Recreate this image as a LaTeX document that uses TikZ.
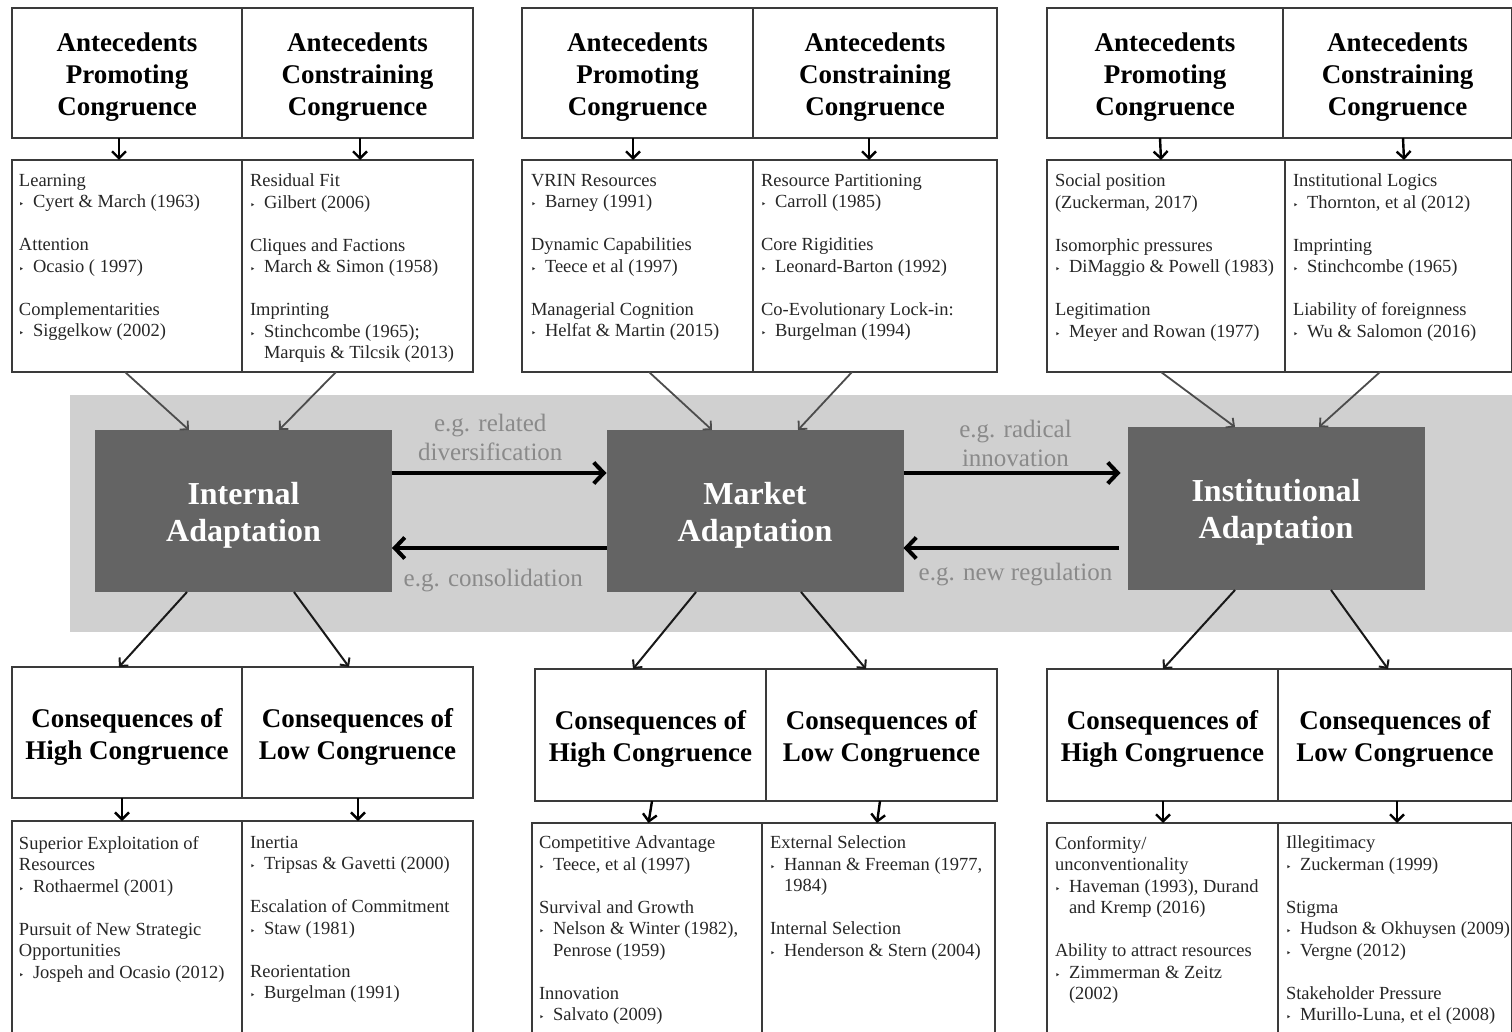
\documentclass[tikz,border=0pt]{standalone}
\usepackage{fontspec}
\setmainfont{Liberation Serif}
\newfontfamily\symfont{DejaVu Sans}
\usetikzlibrary{positioning,arrows.meta,calc}

\definecolor{bandgray}{HTML}{D0D0D0}
\definecolor{boxgray}{HTML}{646464}
\definecolor{taggray}{HTML}{8A8A8A}
\definecolor{rulegray}{HTML}{3A3A3A}

\newcommand\hfnt{\fontsize{27}{32}\selectfont\bfseries}
\newcommand\lfnt{\fontsize{18.5}{21.5}\selectfont}
\newcommand\tfnt{\fontsize{25}{29}\selectfont}
\newcommand\afnt{\fontsize{32}{37}\selectfont\bfseries}
\newcommand\bul{\makebox[14pt][l]{\symfont\fontsize{9}{9}\selectfont ‣}}
\newcommand\ind{\hspace*{14pt}}
\newcommand\gap{\\[21.5pt]}
% centred lines, set a little below the middle of their box
\newcommand\stack[1]{\raisebox{-4.5pt}[\height][\depth]{\begin{tabular}{@{}c@{}}#1\end{tabular}}}

\begin{document}
\begin{tikzpicture}[x=1pt,y=-1pt,outer sep=0pt,
    hd/.style={draw=rulegray,line width=1.5pt,anchor=north west,font=\hfnt,inner sep=0pt,minimum height=#1},
    bx/.style={draw=rulegray,line width=1.5pt,anchor=north west,inner sep=0pt,minimum height=#1},
    lst/.style={anchor=north west,align=left,font=\lfnt,inner sep=0pt,text=black!85},
    adapt/.style={fill=boxgray,text=white,font=\afnt,minimum width=297pt,minimum height=162pt},
    tag/.style={text=taggray,font=\tfnt,align=center,inner sep=0pt},
    flow/.style={black,line width=4pt,-{Straight Barb[length=10pt,width=21pt]}},
    feed/.style={black!70,line width=1.8pt,-{Straight Barb[length=6pt,width=12pt]}},
    down/.style={black!90,line width=2pt,-{Straight Barb[length=6pt,width=12pt]}},
    drop/.style={black,line width=2.4pt,-{Straight Barb[length=7pt,width=14pt]}}]
  \useasboundingbox (0,0) rectangle (1512,1032);
  \fill[bandgray] (70,395) rectangle (1512,632);

  % antecedents
  \node[hd=130pt,minimum width=230pt] (hp1) at (12,8) {\stack{Antecedents\\Promoting\\Congruence}};
  \node[hd=130pt,minimum width=231pt,right=0pt of hp1] (hc1) {\stack{Antecedents\\Constraining\\Congruence}};
  \node[hd=130pt,minimum width=231pt] (hp2) at (522,8) {\stack{Antecedents\\Promoting\\Congruence}};
  \node[hd=130pt,minimum width=244pt,right=0pt of hp2] (hc2) {\stack{Antecedents\\Constraining\\Congruence}};
  \node[hd=130pt,minimum width=236pt] (hp3) at (1047,8) {\stack{Antecedents\\Promoting\\Congruence}};
  \node[hd=130pt,minimum width=229pt,right=0pt of hp3] (hc3) {\stack{Antecedents\\Constraining\\Congruence}};

  \node[bx=212pt,minimum width=230pt] (lp1) at (12,160) {};
  \node[bx=212pt,minimum width=231pt,right=0pt of lp1] (lc1) {};
  \node[bx=212pt,minimum width=231pt] (lp2) at (522,160) {};
  \node[bx=212pt,minimum width=244pt,right=0pt of lp2] (lc2) {};
  \node[bx=212pt,minimum width=238pt] (lp3) at (1047,160) {};
  \node[bx=212pt,minimum width=227pt,right=0pt of lp3] (lc3) {};

  \node[lst] (tp1) at ([xshift=7pt,yshift=-14pt]lp1.north west) {Learning\\\bul Cyert \& March (1963)\gap Attention\\\bul Ocasio ( 1997)\gap Complementarities\\\bul Siggelkow (2002)};
  \node[lst] (tc1) at ([xshift=8pt,yshift=-14pt]lc1.north west) {Residual Fit\\\bul Gilbert (2006)\gap Cliques and Factions\\\bul March \& Simon (1958)\gap Imprinting\\\bul Stinchcombe (1965);\\\ind Marquis \& Tilcsik (2013)};
  \node[lst] (tp2) at ([xshift=9pt,yshift=-14pt]lp2.north west) {VRIN Resources\\\bul Barney (1991)\gap Dynamic Capabilities\\\bul Teece et al (1997)\gap Managerial Cognition\\\bul Helfat \& Martin (2015)};
  \node[lst] (tc2) at ([xshift=8pt,yshift=-14pt]lc2.north west) {Resource Partitioning\\\bul Carroll (1985)\gap Core Rigidities\\\bul Leonard-Barton (1992)\gap Co-Evolutionary Lock-in:\\\bul Burgelman (1994)};
  \node[lst] (tp3) at ([xshift=8pt,yshift=-14pt]lp3.north west) {Social position\\(Zuckerman, 2017)\gap Isomorphic pressures\\\bul DiMaggio \& Powell (1983)\gap Legitimation\\\bul Meyer and Rowan (1977)};
  \node[lst] (tc3) at ([xshift=8pt,yshift=-14pt]lc3.north west) {Institutional Logics\\\bul Thornton, et al (2012)\gap Imprinting\\\bul Stinchcombe (1965)\gap Liability of foreignness\\\bul Wu \& Salomon (2016)};

  \foreach \g/\a/\b in {1/-8/2.5,2/-4.5/-6,3/-5/5.5}{
    \draw[drop] ([xshift=\a pt]hp\g.south) -- ([xshift=\a pt]lp\g.north);
    \draw[drop] ([xshift=\b pt]hc\g.south) -- ([xshift=\b pt]lc\g.north);
  }

  % adaptation
  \node[adapt] (int) at (243.5,511) {\stack{Internal\\Adaptation}};
  \node[adapt] (mkt) at (755,511) {\stack{Market\\Adaptation}};
  \node[adapt,minimum height=163pt] (inst) at (1276,508.5) {\stack{Institutional\\Adaptation}};

  \draw[feed] ([xshift=-2pt]lp1.south) -- ([xshift=-54.5pt]int.north);
  \draw[feed] ([xshift=-21.5pt]lc1.south) -- ([xshift=35.5pt]int.north);
  \draw[feed] ([xshift=11.5pt]lp2.south) -- ([xshift=-43pt]mkt.north);
  \draw[feed] ([xshift=-23pt]lc2.south) -- ([xshift=43pt]mkt.north);
  \draw[feed] ([xshift=-5pt]lp3.south) -- ([xshift=-41pt]inst.north);
  \draw[feed] ([xshift=-18.5pt]lc3.south) -- ([xshift=43pt]inst.north);

  \draw[flow] ([yshift=38pt]int.east) -- node[tag,above=12pt,xshift=-9pt] {e.g. related\\diversification} ([yshift=38pt]mkt.west);
  \draw[flow] ([yshift=-37pt]mkt.west) -- node[tag,below=21pt,xshift=-6pt] {e.g. consolidation} ([yshift=-37pt]int.east);
  \draw[flow,shorten >=7pt] ([yshift=38pt]mkt.east) -- node[tag,above=6pt] {e.g. radical\\innovation} ([yshift=35.5pt]inst.west);
  \draw[flow,shorten <=9pt] ([yshift=-39.5pt]inst.west) -- node[tag,below=15pt] {e.g. new regulation} ([yshift=-37pt]mkt.east);

  % consequences
  \node[hd=131pt,minimum width=230pt] (hh1) at (12,667) {\stack{Consequences of\\High Congruence}};
  \node[hd=131pt,minimum width=231pt,right=0pt of hh1] (hl1) {\stack{Consequences of\\Low Congruence}};
  \node[hd=132pt,minimum width=231pt] (hh2) at (535,669) {\stack{Consequences of\\High Congruence}};
  \node[hd=132pt,minimum width=231pt,right=0pt of hh2] (hl2) {\stack{Consequences of\\Low Congruence}};
  \node[hd=132pt,minimum width=231pt] (hh3) at (1047,669) {\stack{Consequences of\\High Congruence}};
  \node[hd=132pt,minimum width=234pt,right=0pt of hh3] (hl3) {\stack{Consequences of\\Low Congruence}};

  \draw[down] ([xshift=-56.5pt]int.south) -- ([xshift=-8pt]hh1.north);
  \draw[down] ([xshift=50.5pt]int.south) -- ([xshift=-8.5pt]hl1.north);
  \draw[down] ([xshift=-59pt]mkt.south) -- ([xshift=-17.5pt]hh2.north);
  \draw[down] ([xshift=46pt]mkt.south) -- ([xshift=-15.5pt]hl2.north);
  \draw[down] ([xshift=-41pt]inst.south) -- ([xshift=0.5pt]hh3.north);
  \draw[down] ([xshift=55pt]inst.south) -- ([xshift=-7pt]hl3.north);

  \node[bx=230pt,minimum width=230pt] (bh1) at (12,821) {};
  \node[bx=230pt,minimum width=231pt,right=0pt of bh1] (bl1) {};
  \node[bx=230pt,minimum width=230pt] (bh2) at (532,823) {};
  \node[bx=230pt,minimum width=233pt,right=0pt of bh2] (bl2) {};
  \node[bx=230pt,minimum width=231pt] (bh3) at (1047,823) {};
  \node[bx=230pt,minimum width=234pt,right=0pt of bh3] (bl3) {};

  \foreach \g/\a/\b in {1/-5/0.5,2/1.5/-1.5,3/0.5/2}{
    \draw[drop] ([xshift=\a pt]hh\g.south) -- ([xshift=\a pt]bh\g.north);
    \draw[drop] ([xshift=\b pt]hl\g.south) -- ([xshift=\b pt]bl\g.north);
  }

  \node[lst] (th1) at ([xshift=7pt,yshift=-15pt]bh1.north west) {Superior Exploitation of\\Resources\\\bul Rothaermel (2001)\gap Pursuit of New Strategic\\Opportunities\\\bul Jospeh and Ocasio (2012)};
  \node[lst] (tl1) at ([xshift=8pt,yshift=-15pt]bl1.north west) {Inertia\\\bul Tripsas \& Gavetti (2000)\gap Escalation of Commitment\\\bul Staw (1981)\gap Reorientation\\\bul Burgelman (1991)};
  \node[lst] (th2) at ([xshift=7pt,yshift=-13pt]bh2.north west) {Competitive Advantage\\\bul Teece, et al (1997)\gap Survival and Growth\\\bul Nelson \& Winter (1982),\\\ind Penrose (1959)\gap Innovation\\\bul Salvato (2009)};
  \node[lst] (tl2) at ([xshift=8pt,yshift=-13pt]bl2.north west) {External Selection\\\bul Hannan \& Freeman (1977,\\\ind 1984)\gap Internal Selection\\\bul Henderson \& Stern (2004)};
  \node[lst] (th3) at ([xshift=8pt,yshift=-13pt]bh3.north west) {Conformity/\\unconventionality\\\bul Haveman (1993), Durand\\\ind and Kremp (2016)\gap Ability to attract resources\\\bul Zimmerman \& Zeitz\\\ind (2002)};
  \node[lst] (tl3) at ([xshift=8pt,yshift=-13pt]bl3.north west) {Illegitimacy\\\bul Zuckerman (1999)\gap Stigma\\\bul Hudson \& Okhuysen (2009)\\\bul Vergne (2012)\gap Stakeholder Pressure\\\bul Murillo-Luna, et el (2008)};
\end{tikzpicture}
\end{document}
